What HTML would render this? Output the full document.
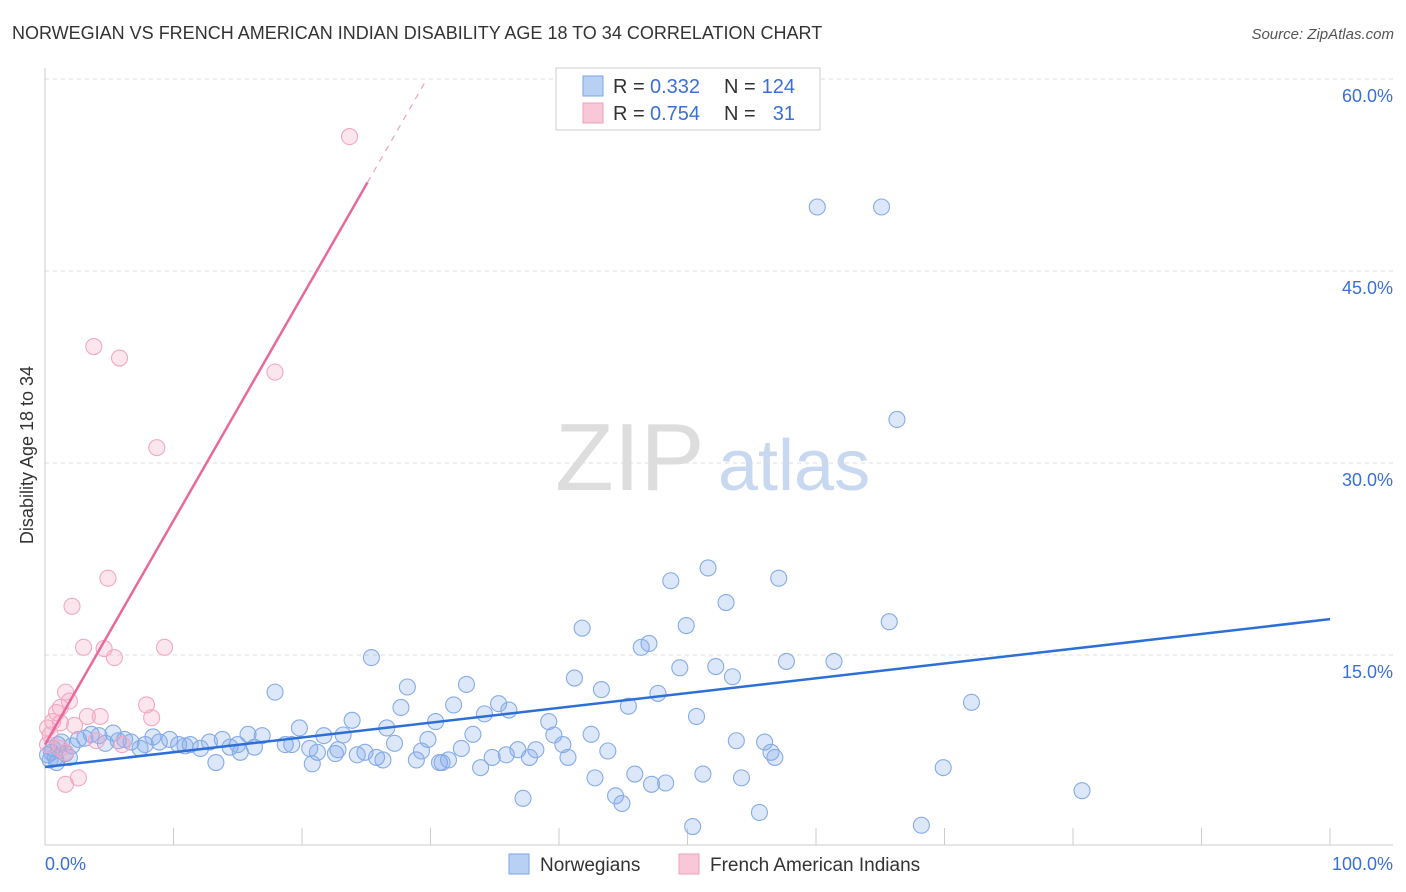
<!DOCTYPE html>
<html><head><meta charset="utf-8">
<style>
body{margin:0;background:#fff;font-family:"Liberation Sans",sans-serif;}
#wrap{position:relative;width:1406px;height:892px;overflow:hidden;}
svg text{font-family:"Liberation Sans",sans-serif;}
</style></head>
<body>
<div id="wrap">
<svg id="chart" width="1406" height="892">
<text x="12" y="39" font-size="18" fill="#333">NORWEGIAN VS FRENCH AMERICAN INDIAN DISABILITY AGE 18 TO 34 CORRELATION CHART</text>
<text x="1394" y="39" font-size="15" fill="#555" font-style="italic" text-anchor="end">Source: ZipAtlas.com</text>
<text x="33" y="455" font-size="18" fill="#333" text-anchor="middle" transform="rotate(-90 33 455)">Disability Age 18 to 34</text>
<text x="555" y="490" font-size="96" fill="#ddd" font-family="Liberation Serif">ZIP</text>
<text x="718" y="490" font-size="72" fill="#c8d8f0">atlas</text>
<g id="grid"></g><g id="pts"></g><g id="lines"></g>
<g>
<rect x="556" y="68" width="264" height="62" fill="#fff" stroke="#ccc"/>
<rect x="583" y="76" width="20" height="20" fill="#b8d0f4" stroke="#7aa6e8"/>
<rect x="583" y="103" width="20" height="20" fill="#f8c8d8" stroke="#f0a0b8"/>
<text x="613" y="93" font-size="20" fill="#333">R =</text>
<text x="650" y="93" font-size="20" fill="#3a6fd8">0.332</text>
<text x="724" y="93" font-size="20" fill="#333">N =</text>
<text x="795" y="93" font-size="20" fill="#3a6fd8" text-anchor="end">124</text>
<text x="613" y="120" font-size="20" fill="#333">R =</text>
<text x="650" y="120" font-size="20" fill="#3a6fd8">0.754</text>
<text x="724" y="120" font-size="20" fill="#333">N =</text>
<text x="795" y="120" font-size="20" fill="#3a6fd8" text-anchor="end">31</text>
</g>
<g>
<rect x="509" y="854" width="20" height="20" fill="#b8d0f4" stroke="#7aa6e8"/>
<text x="540" y="871" font-size="19" fill="#333">Norwegians</text>
<rect x="679" y="854" width="20" height="20" fill="#f8c8d8" stroke="#f0a0b8"/>
<text x="710" y="871" font-size="19" fill="#333">French American Indians</text>
</g>
<text x="45" y="870" font-size="18" fill="#3a6fd8">0.0%</text>
<text x="1393" y="870" font-size="18" fill="#3a6fd8" text-anchor="end">100.0%</text>
</svg>
</div>
<script>
const yTicks=[15,30,45,60];
const xTicks=[0,10,20,30,40,50,60,70,80,90,100];
const blueX=[60.1,65.1,66.3,51.6,57.1,48.7,53.0,49.9,65.7,41.8,47.0,46.4,25.4,57.7,61.4,49.4,52.2,53.5,41.2,32.8,28.2,43.3,17.9,47.7,35.3,31.8,27.7,45.4,72.1,36.1,34.2,50.7,23.9,30.4,39.2,19.8,26.6,33.3,42.5,39.6,23.2,21.7,15.8,16.9,13.8,12.8,29.8,56.0,53.8,27.2,40.3,8.4,9.7,5.3,4.2,3.1,1.3,2.1,0.6,5.7,6.7,7.8,8.9,10.4,11.3,12.1,14.4,15.2,16.3,18.7,19.2,20.6,21.2,22.6,22.8,24.3,24.9,25.8,26.3,28.9,29.3,30.7,31.4,32.4,34.8,35.9,36.8,37.7,38.2,40.7,43.8,56.5,56.8,13.3,20.8,33.9,30.9,45.9,51.2,42.8,54.2,69.9,47.2,48.3,80.7,37.2,44.4,44.9,55.6,50.4,68.2,0.8,0.2,1.6,1.0,4.7,3.6,2.6,6.2,10.9,15.0,7.4,1.9,0.9,0.4,0.5];
const blueY=[50.0,50.0,33.4,21.8,21.0,20.8,19.1,17.3,17.6,17.1,15.9,15.6,14.8,14.5,14.5,14.0,14.1,13.3,13.2,12.7,12.5,12.3,12.1,12.0,11.2,11.1,10.9,11.0,11.3,10.7,10.4,10.2,9.9,9.8,9.8,9.3,9.3,8.8,8.8,8.75,8.75,8.7,8.8,8.7,8.4,8.2,8.4,8.2,8.3,8.1,8.0,8.6,8.4,8.9,8.7,8.5,8.2,7.9,7.7,8.3,8.2,8.0,8.2,8.0,8.0,7.7,7.8,7.4,7.8,8.0,8.0,7.7,7.4,7.3,7.6,7.2,7.4,7.0,6.8,6.8,7.5,6.6,6.8,7.7,7.0,7.2,7.6,7.0,7.6,7.0,7.5,7.4,7.0,6.6,6.5,6.2,6.6,5.7,5.7,5.4,5.4,6.2,4.9,5.0,4.4,3.8,4.0,3.4,2.7,1.6,1.7,7.0,7.2,7.3,8.0,8.1,8.8,8.4,8.4,7.9,8.0,7.7,7.0,6.6,6.8,7.4];
const pinkX=[23.7,3.8,5.8,17.9,8.7,4.9,2.1,3.0,4.6,5.4,9.3,1.6,1.9,0.9,7.9,1.2,3.3,4.3,8.3,2.3,0.6,0.2,1.2,4.0,6.0,0.4,1.6,1.2,2.6,1.6,0.2];
const pinkY=[55.5,39.1,38.2,37.1,31.2,21.0,18.8,15.6,15.5,14.8,15.6,12.1,11.4,10.5,11.1,10.9,10.2,10.2,10.1,9.5,9.8,9.3,9.7,8.3,8.0,8.75,7.4,7.7,5.4,4.9,8.0];
const blueLine=[6.25,17.8];
const pinkLine=[8.0,1.75];
const NS='http://www.w3.org/2000/svg';
const X=v=>45+v*12.85;
const Y=v=>847-v*12.8;
function mk(tag,attrs,parent){const e=document.createElementNS(NS,tag);for(const k in attrs)e.setAttribute(k,attrs[k]);parent.appendChild(e);return e;}
const grid=document.getElementById('grid'),pts=document.getElementById('pts'),lines=document.getElementById('lines');
yTicks.forEach(t=>{
 const l=mk('line',{x1:45,x2:1393,y1:Y(t),y2:Y(t),stroke:'#ddd','stroke-dasharray':'4,4'},grid);
 
 
 const tx=mk('text',{x:1393,y:Y(t)+23,'font-size':18,fill:'#3a6fd8','text-anchor':'end'},grid);
 tx.textContent=t.toFixed(1)+'%';
 
 
});
const ya=mk('line',{x1:45,x2:45,y1:68,y2:845,stroke:'#ccc'},grid);


const xa=mk('line',{x1:45,x2:1393,y1:845,y2:845,stroke:'#ccc'},grid);


xTicks.forEach(t=>{
 const l=mk('line',{x1:X(t),x2:X(t),y1:828,y2:845,stroke:'#ccc'},grid);
 
 
});
blueX.forEach((x,i)=>{
 const c=mk('circle',{cx:X(x),cy:Y(blueY[i]),r:8,fill:'rgba(130,170,235,0.28)',stroke:'#86abe8','stroke-width':1.1},pts);
 
 
});
pinkX.forEach((x,i)=>{
 const c=mk('circle',{cx:X(x),cy:Y(pinkY[i]),r:8,fill:'rgba(245,165,195,0.28)',stroke:'#f2a8c0','stroke-width':1.1},pts);
 
 
});
const bl=mk('line',{x1:X(0),y1:Y(blueLine[0]),x2:X(100),y2:Y(blueLine[1]),stroke:'#2d6fd6','stroke-width':2.5},lines);


const pxEnd=25.1, pxDash=(60-pinkLine[0])/pinkLine[1];
const pl=mk('line',{x1:X(0),y1:Y(pinkLine[0]),x2:X(pxEnd),y2:Y(pinkLine[0]+pinkLine[1]*pxEnd),stroke:'#e8699a','stroke-width':2.5},lines);


const pd=mk('line',{x1:X(pxEnd),y1:Y(pinkLine[0]+pinkLine[1]*pxEnd),x2:X(pxDash),y2:Y(60),stroke:'#f0a0b8','stroke-width':1.2,'stroke-dasharray':'6,6'},lines);


</script>
</body></html>
